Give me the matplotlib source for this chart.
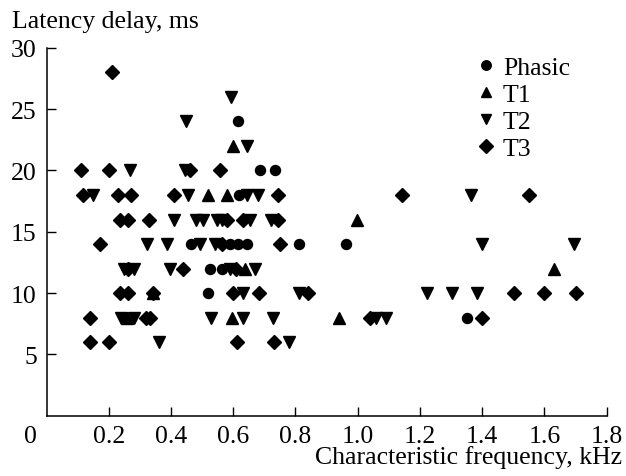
import matplotlib
matplotlib.use("Agg")
import matplotlib.pyplot as plt

plt.rcParams['font.family'] = ['Liberation Serif', 'DejaVu Serif']

# characteristic frequency (kHz) and latency delay (ms) per response type
phasic_x = [0.614, 0.686, 0.734, 0.62, 0.465, 0.59, 0.616, 0.643, 0.812, 0.962,
            0.525, 0.563, 0.52, 1.35]
phasic_y = [24, 20, 20, 18, 14, 14, 14, 14, 14, 14,
            12, 12, 10, 8]

t1_x = [0.60, 0.52, 0.579, 0.997, 0.638, 0.595, 0.94, 1.632, 0.343, 0.26]
t1_y = [22, 18, 18, 16, 12, 8, 8, 12, 10, 8]

t2_x = [0.592, 0.448, 0.643,
        0.268, 0.445,
        0.15, 0.455, 0.643, 0.68, 1.363,
        0.41, 0.479, 0.502, 0.547, 0.563, 0.654, 0.72,
        0.322, 0.386, 0.493, 0.541, 1.40, 1.696,
        0.25, 0.28, 0.397, 0.59, 0.67,
        0.632, 0.81, 1.222, 1.302, 1.382,
        0.24, 0.28, 0.529, 0.63, 0.729, 1.06, 1.09,
        0.36, 0.78]
t2_y = [26, 24, 22,
        20, 20,
        18, 18, 18, 18, 18,
        16, 16, 16, 16, 16, 16, 16,
        14, 14, 14, 14, 14, 14,
        12, 12, 12, 12, 12,
        10, 10, 10, 10, 10,
        8, 8, 8, 8, 8, 8, 8,
        6, 6]

t3_x = [0.211,
        0.11, 0.20, 0.461, 0.557,
        0.118, 0.229, 0.272, 0.41, 0.743, 1.143, 1.551,
        0.236, 0.262, 0.33, 0.63, 0.745, 0.579,
        0.172, 0.563, 0.75,
        0.263, 0.44, 0.61,
        0.236, 0.263, 0.343, 0.60, 0.683, 0.841, 1.502, 1.60, 1.70,
        0.14, 0.32, 0.333, 1.04, 1.40,
        0.14, 0.20, 0.611, 0.732]
t3_y = [28,
        20, 20, 20, 20,
        18, 18, 18, 18, 18, 18, 18,
        16, 16, 16, 16, 16, 16,
        14, 14, 14,
        12, 12, 12,
        10, 10, 10, 10, 10, 10, 10, 10, 10,
        8, 8, 8, 8, 8,
        6, 6, 6, 6]

x_ticks = [0.2, 0.4, 0.6, 0.8, 1.0, 1.2, 1.4, 1.6, 1.8]
y_ticks = [5, 10, 15, 20, 25, 30]

fs = 18.5

fig = plt.figure(figsize=(6.26, 4.77), dpi=100)
ax = fig.add_axes([0.0743, 0.1268, 0.8949, 0.7705])

ax.plot(phasic_x, phasic_y, 'o', color='black', ms=7.2, label='Phasic', clip_on=False)
ax.plot(t1_x, t1_y, '^', color='black', ms=8, label='T1', clip_on=False)
ax.plot(t2_x, t2_y, 'v', color='black', ms=8, label='T2', clip_on=False)
ax.plot(t3_x, t3_y, 'D', color='black', ms=7.5, label='T3', clip_on=False)

ax.set_xlim(0, 1.8)
ax.set_ylim(0, 30)
ax.set_xticks(x_ticks)
ax.set_xticklabels([f"{v:.1f}" for v in x_ticks])
ax.set_yticks(y_ticks)

for s in ['top', 'right']:
    ax.spines[s].set_visible(False)
for s in ['left', 'bottom']:
    ax.spines[s].set_linewidth(1.1)
ax.tick_params(direction='in', length=6.5, width=1.0, labelsize=fs)
ax.tick_params(axis='x', pad=6.5)
ax.tick_params(axis='y', pad=7)

ax.text(-0.028, -0.026, "0", transform=ax.transAxes, fontsize=fs,
        ha='center', va='top')
fig.text(0.019, 0.942, "Latency delay, ms", fontsize=fs, ha='left', va='baseline')
fig.text(0.994, 0.027, "Characteristic frequency, kHz", fontsize=fs,
         ha='right', va='baseline')

ax.legend(loc='upper right', bbox_to_anchor=(0.962, 1.02), frameon=False,
          fontsize=fs, handlelength=0.6, handletextpad=0.35,
          labelspacing=0.16, borderaxespad=0.2, markerscale=0.95)

fig.savefig("out.png", dpi=100)
